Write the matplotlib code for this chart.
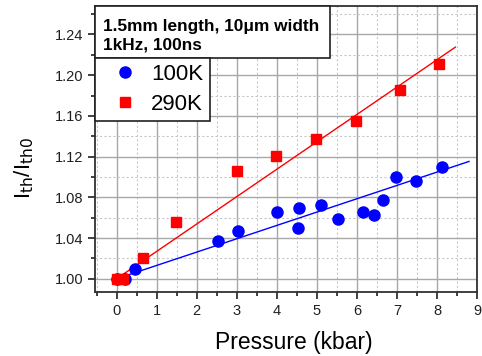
import numpy as np
import matplotlib
matplotlib.use('Agg')
from matplotlib import pyplot as plt
from matplotlib.patches import Rectangle
from matplotlib.ticker import MultipleLocator, FormatStrFormatter

plt.rcParams['font.family'] = ['Liberation Sans', 'DejaVu Sans']

# 100K data
p_100k = [0.0, 0.2, 0.46, 2.54, 3.04, 4.0, 4.56, 4.54, 5.1, 5.52, 6.15, 6.43, 6.64, 6.97, 7.47, 8.12]
r_100k = [1.000, 1.000, 1.010, 1.037, 1.047, 1.066, 1.070, 1.050, 1.072, 1.059, 1.066, 1.063, 1.077, 1.100, 1.096, 1.110]
# 290K data
p_290k = [0.0, 0.15, 0.65, 1.48, 3.0, 3.98, 4.98, 5.97, 7.07, 8.04]
r_290k = [1.000, 1.000, 1.020, 1.056, 1.106, 1.121, 1.137, 1.155, 1.185, 1.211]
# linear fits
fit_100k = (1.0, 0.0131, 8.8)    # intercept, slope, x end
fit_290k = (1.0, 0.0269, 8.46)

fig = plt.figure(figsize=(4.82, 3.56), dpi=100)
ax = fig.add_axes([95/482, 64/356, 382/482, 286/356])

for (b, m, xe), c in [(fit_100k, 'blue'), (fit_290k, 'red')]:
    xx = np.array([0, xe])
    ax.plot(xx, b + m*xx, color=c, lw=1, zorder=3)

ax.plot(p_100k, r_100k, 'o', color='blue', ms=8, mec='blue', label='100K', zorder=4)
ax.plot(p_290k, r_290k, 's', color='red', ms=7.2, mec='red', label='290K', zorder=5)

ax.set_xlim(-0.54, 9.0)
ax.set_ylim(0.987, 1.268)
ax.xaxis.set_major_locator(MultipleLocator(1))
ax.xaxis.set_minor_locator(MultipleLocator(0.5))
ax.yaxis.set_major_locator(MultipleLocator(0.04))
ax.yaxis.set_minor_locator(MultipleLocator(0.02))
ax.yaxis.set_major_formatter(FormatStrFormatter('%.2f'))
ax.grid(which='major', color='#a8a8a8', lw=1, ls='-', zorder=0)
ax.grid(which='minor', color='#c8c8c8', lw=0.8, ls=(0, (2, 2)), zorder=0)
ax.set_axisbelow(True)
ax.tick_params(which='both', direction='out', top=False, right=False, width=1.2, colors='#202020')
ax.tick_params(which='major', length=5, labelsize=10.5)
ax.tick_params(which='minor', length=3)
for s in ax.spines.values():
    s.set_linewidth(1.3)
    s.set_color('#303030')

ax.set_xlabel('Pressure (kbar)', fontsize=16.5)
ax.xaxis.set_label_coords(0.52, -0.135)
ax.set_ylabel(r'I$_{\rm th}$/I$_{\rm th0}$', fontsize=16)
ax.yaxis.set_label_coords(-0.155, 0.434)

# text box
ax.add_patch(Rectangle((0, 0.818), 0.615, 0.182, transform=ax.transAxes,
                       facecolor='white', edgecolor='#202020', lw=1.2, zorder=6, clip_on=False))
ax.text(0.021, 0.897, '1.5mm length, 10\u03bcm width\n1kHz, 100ns', transform=ax.transAxes,
        fontsize=12.4, fontweight='bold', va='center', ha='left', linespacing=1.3, zorder=7)

leg = ax.legend(loc='upper left', bbox_to_anchor=(0, 0.818), borderaxespad=0, fontsize=16,
                fancybox=False, edgecolor='#202020', framealpha=1, handlelength=2.1,
                handletextpad=0.15, borderpad=0.28, labelspacing=0.38)
leg.get_frame().set_linewidth(1.2)
leg.set_zorder(8)

plt.savefig('out.png', dpi=100)
